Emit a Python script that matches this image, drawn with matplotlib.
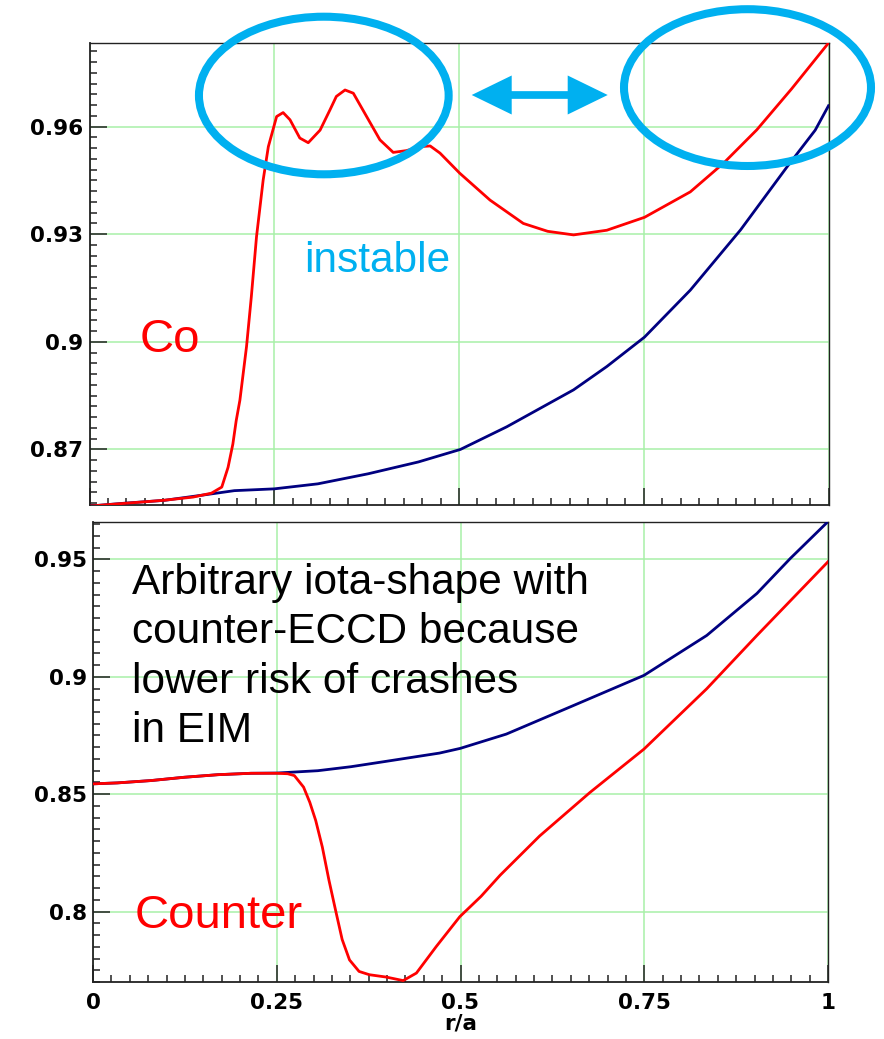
import matplotlib
matplotlib.use("Agg")
import matplotlib.pyplot as plt
import matplotlib.transforms as mtransforms
from matplotlib.patches import Ellipse, Polygon
from matplotlib.ticker import FixedLocator, MultipleLocator

# ---------------------------------------------------------------------------
# Rotational transform profiles iota(r/a)
# ---------------------------------------------------------------------------
# upper panel: co-ECCD case (red) and reference profile (blue)
r_co = [0, 0.05, 0.10, 0.14, 0.165, 0.179, 0.1875, 0.194, 0.1985, 0.2035,
        0.2125, 0.219, 0.226, 0.235, 0.242, 0.2532, 0.262, 0.2713, 0.2846,
        0.296, 0.312, 0.3255, 0.334, 0.3458, 0.357, 0.375, 0.393, 0.411,
        0.429, 0.447, 0.461, 0.4743, 0.501, 0.542, 0.587, 0.62, 0.655, 0.700,
        0.751, 0.813, 0.858, 0.903, 0.95, 1.0]
iota_co = [0.8542, 0.855, 0.8558, 0.8567, 0.8578, 0.8595, 0.865, 0.8715,
           0.878, 0.8837, 0.8987, 0.9126, 0.9293, 0.9451, 0.9544, 0.9628,
           0.9639, 0.9619, 0.9568, 0.9555, 0.9590, 0.9647, 0.9684, 0.9702,
           0.9693, 0.9628, 0.9563, 0.9528, 0.9533, 0.9544, 0.9546, 0.9526,
           0.9470, 0.9395, 0.9330, 0.9308, 0.9298, 0.9311, 0.9347, 0.9418,
           0.9498, 0.9591, 0.9705, 0.9833]

r_ref_top = [0, 0.0474, 0.1015, 0.165, 0.196, 0.25, 0.309, 0.377, 0.445,
             0.502, 0.5646, 0.655, 0.700, 0.751, 0.813, 0.881, 0.944, 0.982,
             1.0]
iota_ref_top = [0.8542, 0.855, 0.8558, 0.8576, 0.8585, 0.859, 0.8604, 0.8632,
                0.8665, 0.870, 0.8763, 0.8866, 0.8931, 0.9013, 0.9144, 0.9312,
                0.9488, 0.959, 0.9658]

# lower panel: counter-ECCD case (red) and reference profile (blue)
r_ctr = [0, 0.033, 0.079, 0.124, 0.17, 0.215, 0.25, 0.265, 0.274, 0.2865,
         0.295, 0.303, 0.312, 0.321, 0.330, 0.339, 0.349, 0.362, 0.376, 0.399,
         0.422, 0.440, 0.467, 0.499, 0.528, 0.554, 0.6077, 0.676, 0.7496,
         0.835, 0.9033, 1.0]
iota_ctr = [0.8544, 0.8548, 0.8558, 0.8572, 0.8583, 0.8589, 0.8589, 0.8587,
            0.8579, 0.8530, 0.8465, 0.8388, 0.8275, 0.8134, 0.8006, 0.7881,
            0.7794, 0.7745, 0.7731, 0.7721, 0.7706, 0.7738, 0.7851, 0.7978,
            0.8065, 0.8155, 0.8322, 0.8507, 0.8692, 0.8949, 0.9176, 0.9490]

r_ref_bot = [0, 0.033, 0.079, 0.124, 0.17, 0.215, 0.25, 0.306, 0.351, 0.397,
             0.4714, 0.4996, 0.5624, 0.6532, 0.7496, 0.835, 0.9033, 0.9487,
             1.0]
iota_ref_bot = [0.8544, 0.8548, 0.8558, 0.8572, 0.8583, 0.8589, 0.8590,
                0.8600, 0.8617, 0.8639, 0.8675, 0.8695, 0.8756, 0.8877,
                0.9006, 0.9176, 0.9355, 0.9504, 0.9661]

# tick positions and labels
x_ticks = [0, 0.25, 0.5, 0.75, 1]
x_ticklabels = ["0", "0.25", "0.5", "0.75", "1"]
y_ticks_top = [0.87, 0.9, 0.93, 0.96]
y_ticklabels_top = ["0.87", "0.9", "0.93", "0.96"]
y_ticks_bot = [0.8, 0.85, 0.9, 0.95]
y_ticklabels_bot = ["0.8", "0.85", "0.9", "0.95"]

# ---------------------------------------------------------------------------
W, H = 884, 1039
fig = plt.figure(figsize=(W / 100, H / 100), dpi=100)
fig.patch.set_facecolor("white")

# pixel coordinates (origin top-left) -> figure
px = mtransforms.Affine2D().scale(1 / W, -1 / H).translate(0, 1) + fig.transFigure

RED = "#ff0000"
NAVY = "#000080"
CYAN = "#00b0f0"
GRID = "#a8f0a8"
TICKFONT = dict(family="DejaVu Sans", size=15.5, weight="bold")


def axes_px(left, top, right, bottom):
    return fig.add_axes([left / W, 1 - bottom / H, (right - left) / W,
                         (bottom - top) / H])


def style(ax, yticks, ylabels, yminor, ylim, show_x):
    ax.set_xlim(0, 1)
    ax.set_ylim(*ylim)
    ax.xaxis.set_major_locator(FixedLocator(x_ticks))
    ax.xaxis.set_minor_locator(MultipleLocator(0.025))
    ax.yaxis.set_major_locator(FixedLocator(yticks))
    ax.yaxis.set_minor_locator(MultipleLocator(yminor))
    ax.set_yticklabels(ylabels, fontdict=TICKFONT)
    if show_x:
        ax.set_xticklabels(x_ticklabels, fontdict=TICKFONT)
    else:
        ax.set_xticklabels([])
    ax.tick_params(which="both", direction="in", top=False, right=False,
                   color="#222222", width=1.1)
    ax.tick_params(which="major", length=12)
    ax.tick_params(which="minor", length=5)
    ax.tick_params(axis="y", pad=4.5)
    ax.tick_params(axis="x", pad=8)
    ax.grid(True, which="major", color=GRID, lw=1.1)
    ax.set_axisbelow(True)
    for side, sp in ax.spines.items():
        sp.set_color("#222222")
        sp.set_linewidth(1.3 if side in ("left", "bottom") else 1.0)


ax_top = axes_px(89.5, 43, 828.5, 505)
ax_top.plot(r_ref_top, iota_ref_top, color=NAVY, lw=2.0, zorder=3)
ax_top.plot(r_co, iota_co, color=RED, lw=2.0, zorder=4)
style(ax_top, y_ticks_top, y_ticklabels_top, 0.003, (0.8545, 0.9833), False)

ax_bot = axes_px(93, 522.3, 828, 982)
ax_bot.plot(r_ref_bot, iota_ref_bot, color=NAVY, lw=2.0, zorder=3)
ax_bot.plot(r_ctr, iota_ctr, color=RED, lw=2.0, zorder=4)
style(ax_bot, y_ticks_bot, y_ticklabels_bot, 0.005, (0.770, 0.9658), True)
ax_bot.set_xlabel("r/a", fontdict=TICKFONT, labelpad=0)

# ---------------------------------------------------------------------------
# annotations
TXT = dict(family=["Liberation Sans", "DejaVu Sans"])
fig.text(139.5, 352, "Co", transform=px, color=RED, fontsize=34,
         ha="left", va="baseline", **TXT)
fig.text(135, 928, "Counter", transform=px, color=RED, fontsize=34,
         ha="left", va="baseline", **TXT)
fig.text(304, 272, "instable", transform=px, color=CYAN, fontsize=30.5,
         ha="left", va="baseline", **TXT)
fig.text(132, 742,
         "Arbitrary iota-shape with\ncounter-ECCD because\n"
         "lower risk of crashes\nin EIM",
         transform=px, color="black", fontsize=30.5, linespacing=1.3,
         ha="left", va="baseline", **TXT)

# highlighted regions of the co-ECCD profile
for (cx, cy, w, h) in [(323.8, 95.5, 249.7, 157.6), (747.5, 87.6, 247, 156.8)]:
    fig.add_artist(Ellipse((cx, cy), w, h, fill=False, ec=CYAN, lw=5.8,
                           transform=px, zorder=5, clip_on=False))

# double-headed arrow between the two regions
x0, x1, yc = 471.7, 607.7, 95.0
head_len, head_half, shaft_half = 40.0, 19.5, 3.85
arrow = [(x0, yc), (x0 + head_len, yc - head_half),
         (x0 + head_len, yc - shaft_half), (x1 - head_len, yc - shaft_half),
         (x1 - head_len, yc - head_half), (x1, yc),
         (x1 - head_len, yc + head_half), (x1 - head_len, yc + shaft_half),
         (x0 + head_len, yc + shaft_half), (x0 + head_len, yc + head_half)]
fig.add_artist(Polygon(arrow, closed=True, fc=CYAN, ec="none",
                       transform=px, zorder=5))

fig.savefig("out.png", dpi=100, facecolor="white")
